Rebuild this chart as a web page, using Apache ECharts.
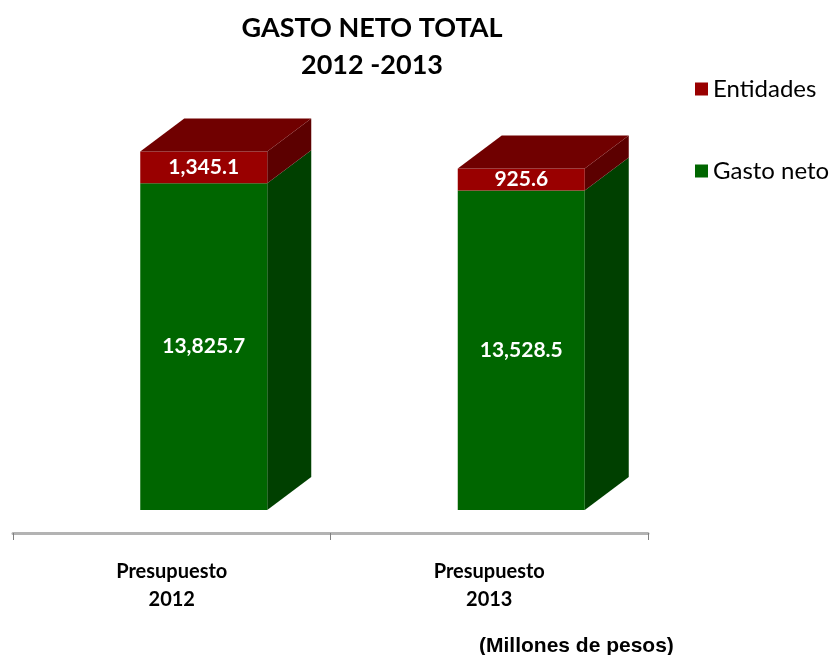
<!DOCTYPE html>
<html>
<head>
<meta charset="utf-8">
<script src="https://cdn.jsdelivr.net/npm/echarts@6/dist/echarts.min.js"></script>
<style>
  html, body { margin: 0; padding: 0; background: #fff; }
  #chart { width: 833px; height: 655px; }
</style>
</head>
<body>
<div id="chart"></div>
<script>
// datos (millones de pesos)
var categorias = ['Presupuesto\n2012', 'Presupuesto\n2013'];
var gastoNeto = [13825.7, 13528.5];
var entidades = [1345.1, 925.6];

// caras del cubo
var ANCHO = 127, DESPL = 32, PROF_X = 44, PROF_Y = 33;

function fmt(v) {
    return v.toLocaleString('en-US', {minimumFractionDigits: 1, maximumFractionDigits: 1});
}

function bar3d(frente, lado, arriba, conTapa) {
    return function (params, api) {
        var lo = api.coord([api.value(0), api.value(1)]);
        var hi = api.coord([api.value(0), api.value(2)]);
        var x0 = lo[0] + DESPL - ANCHO / 2;
        var x1 = x0 + ANCHO;
        var yb = lo[1], yt = hi[1];
        var hijos = [
            {
                type: 'polygon',
                shape: {points: [[x1, yt], [x1 + PROF_X, yt - PROF_Y], [x1 + PROF_X, yb - PROF_Y], [x1, yb]]},
                style: {fill: lado}
            },
            {
                type: 'rect',
                shape: {x: x0, y: yt, width: ANCHO, height: yb - yt},
                style: {fill: frente}
            }
        ];
        if (conTapa) {
            hijos.push({
                type: 'polygon',
                shape: {points: [[x0, yt], [x0 + PROF_X, yt - PROF_Y], [x1 + PROF_X, yt - PROF_Y], [x1, yt]]},
                style: {fill: arriba}
            });
        }
        hijos.push({
            type: 'text',
            style: {
                text: fmt(api.value(3)),
                x: x0 + ANCHO / 2,
                y: (yt + yb) / 2,
                align: 'center',
                verticalAlign: 'middle',
                fill: '#ffffff',
                font: 'bold 21px Lato'
            }
        });
        return {type: 'group', children: hijos};
    };
}

var datosGasto = [], datosEnt = [];
for (var i = 0; i < categorias.length; i++) {
    datosGasto.push([i, 0, gastoNeto[i], gastoNeto[i]]);
    datosEnt.push([i, gastoNeto[i], gastoNeto[i] + entidades[i], entidades[i]]);
}

var myChart = echarts.init(document.getElementById('chart'));
var option = {
    animation: false,
    title: {
        text: 'GASTO NETO TOTAL\n2012 -2013',
        left: 367,
        textAlign: 'center',
        top: 5,
        textStyle: {fontFamily: 'Lato', fontWeight: 'bold', fontSize: 27, lineHeight: 37, color: '#000'}
    },
    legend: {
        orient: 'vertical',
        left: 690,
        top: 72,
        itemWidth: 13,
        itemHeight: 13,
        itemGap: 58,
        icon: 'rect',
        data: ['Entidades', 'Gasto neto'],
        textStyle: {fontFamily: 'Lato', fontSize: 24, color: '#000', padding: [0, 0, 0, 0]}
    },
    graphic: [{
        type: 'text',
        left: 479,
        top: 636,
        style: {text: '(Millones de pesos)', font: 'bold 21px "Liberation Sans"', fill: '#000'}
    }],
    grid: {left: 13, right: 185, top: 132, bottom: 145},
    xAxis: {
        type: 'category',
        data: categorias,
        offset: 23,
        axisLine: {onZero: false, lineStyle: {color: '#b3b3b3', width: 3}},
        axisTick: {show: true, length: 7, lineStyle: {color: '#808080'}},
        axisLabel: {margin: 25, lineHeight: 28, fontFamily: 'Lato', fontWeight: 'bold', fontSize: 20, color: '#000'}
    },
    yAxis: {
        type: 'value',
        min: 0,
        max: 16000,
        show: false
    },
    series: [{
        name: 'Gasto neto',
        type: 'custom',
        itemStyle: {color: '#006600'},
        renderItem: bar3d('#006600', '#004000', '#004d00', false),
        encode: {x: 0, y: [1, 2]},
        data: datosGasto
    }, {
        name: 'Entidades',
        type: 'custom',
        itemStyle: {color: '#990000'},
        renderItem: bar3d('#990000', '#5c0000', '#700000', true),
        encode: {x: 0, y: [1, 2]},
        data: datosEnt
    }]
};
myChart.setOption(option);
</script>
</body>
</html>
